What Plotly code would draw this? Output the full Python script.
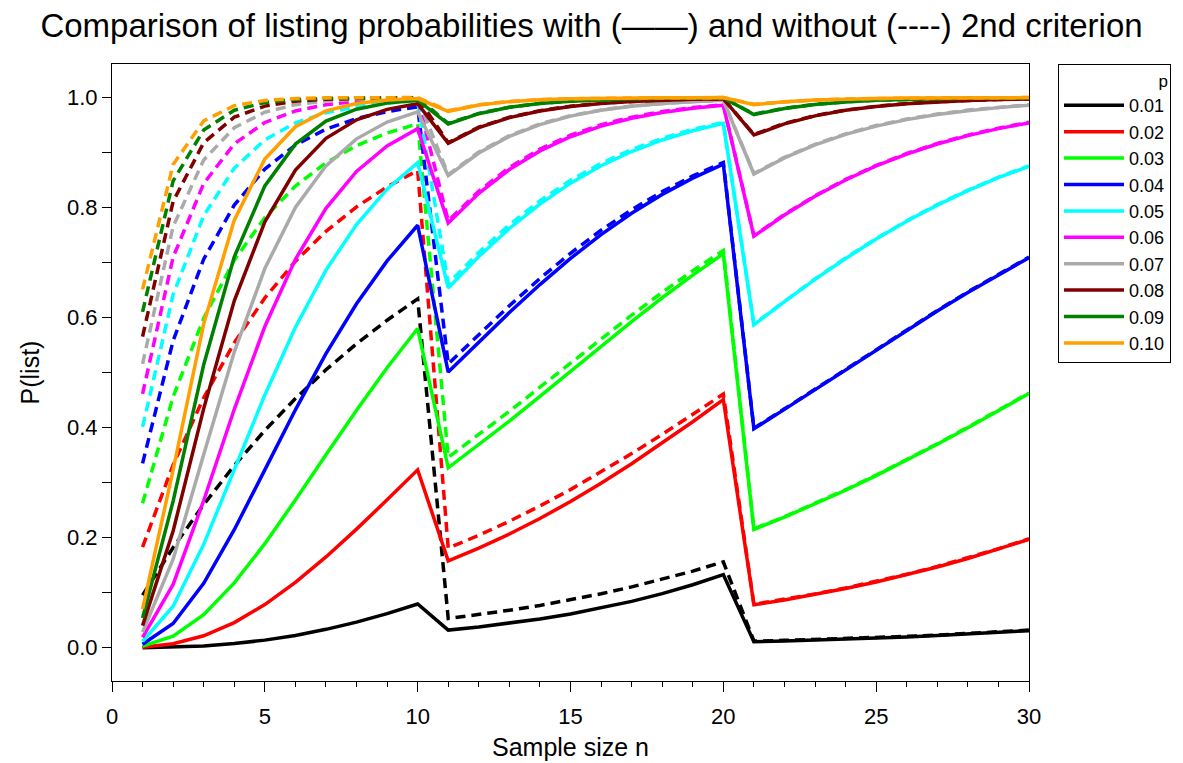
import plotly.graph_objects as go

# Sample sizes and exceedance probabilities
n = list(range(1, 31))
p_labels = ["0.01", "0.02", "0.03", "0.04", "0.05", "0.06", "0.07", "0.08", "0.09", "0.10"]
colors = ["#000000", "#FF0000", "#00FF00", "#0000FF", "#00FFFF",
          "#FF00FF", "#AAAAAA", "#800000", "#008000", "#FF9F00"]

# Listing probability WITH the 2nd criterion (solid lines), n = 1..30
with_p01 = [0.0001, 0.0010, 0.0033, 0.0075, 0.0138, 0.0223, 0.0334, 0.0466, 0.0620, 0.0794,
            0.032, 0.0377, 0.0444, 0.0523, 0.0614, 0.0720, 0.0842, 0.0983, 0.1145, 0.133,
            0.011, 0.0124, 0.0139, 0.0156, 0.0175, 0.0196, 0.0220, 0.0247, 0.0277, 0.031]
with_p02 = [0.0009, 0.0071, 0.0217, 0.0457, 0.0784, 0.1188, 0.1650, 0.2156, 0.2688, 0.3233,
            0.158, 0.1811, 0.2067, 0.2349, 0.2656, 0.2988, 0.3343, 0.3717, 0.4107, 0.451,
            0.078, 0.0869, 0.0968, 0.1076, 0.1196, 0.1325, 0.1468, 0.1622, 0.1789, 0.197]
with_p03 = [0.0028, 0.0210, 0.0601, 0.1178, 0.1892, 0.2685, 0.3508, 0.4318, 0.5089, 0.5802,
            0.327, 0.3685, 0.4119, 0.4568, 0.5025, 0.5480, 0.5928, 0.6361, 0.6773, 0.716,
            0.215, 0.2372, 0.2610, 0.2862, 0.3128, 0.3407, 0.3698, 0.3999, 0.4307, 0.462]
with_p04 = [0.0062, 0.0439, 0.1169, 0.2145, 0.3233, 0.4324, 0.5344, 0.6252, 0.7031, 0.7679,
            0.501, 0.5557, 0.6092, 0.6601, 0.7076, 0.7509, 0.7898, 0.8240, 0.8536, 0.879,
            0.398, 0.4332, 0.4690, 0.5052, 0.5414, 0.5771, 0.6120, 0.6458, 0.6782, 0.709]
with_p05 = [0.0115, 0.0755, 0.1878, 0.3233, 0.4595, 0.5826, 0.6863, 0.7693, 0.8335, 0.8817,
            0.654, 0.7110, 0.7620, 0.8065, 0.8444, 0.8760, 0.9019, 0.9229, 0.9397, 0.953,
            0.587, 0.6292, 0.6695, 0.7074, 0.7427, 0.7751, 0.8044, 0.8308, 0.8543, 0.875]
with_p06 = [0.0188, 0.1150, 0.2676, 0.4334, 0.5838, 0.7060, 0.7987, 0.8656, 0.9121, 0.9435,
            0.772, 0.8259, 0.8692, 0.9030, 0.9288, 0.9481, 0.9624, 0.9729, 0.9805, 0.986,
            0.748, 0.7865, 0.8205, 0.8502, 0.8757, 0.8973, 0.9156, 0.9308, 0.9435, 0.954]
with_p07 = [0.0283, 0.1610, 0.3512, 0.5375, 0.6892, 0.8003, 0.8759, 0.9250, 0.9555, 0.9740,
            0.858, 0.8991, 0.9293, 0.9509, 0.9662, 0.9768, 0.9842, 0.9892, 0.9926, 0.995,
            0.861, 0.8903, 0.9140, 0.9330, 0.9481, 0.9599, 0.9691, 0.9762, 0.9817, 0.986]
with_p08 = [0.0401, 0.2121, 0.4346, 0.6305, 0.7740, 0.8683, 0.9260, 0.9596, 0.9785, 0.9887,
            0.917, 0.9454, 0.9635, 0.9757, 0.9839, 0.9894, 0.9930, 0.9954, 0.9970, 0.998,
            0.932, 0.9522, 0.9667, 0.9768, 0.9839, 0.9889, 0.9923, 0.9947, 0.9964, 0.9975]
with_p09 = [0.0540, 0.2665, 0.5145, 0.7105, 0.8394, 0.9154, 0.9572, 0.9789, 0.9899, 0.9952,
            0.952, 0.9707, 0.9822, 0.9893, 0.9935, 0.9961, 0.9977, 0.9986, 0.9992, 0.9995,
            0.969, 0.9802, 0.9875, 0.9921, 0.9950, 0.9968, 0.9980, 0.9987, 0.9992, 0.9995]
with_p10 = [0.0702, 0.3231, 0.5887, 0.7772, 0.8883, 0.9470, 0.9758, 0.9893, 0.9954, 0.9981,
            0.975, 0.9863, 0.9926, 0.9960, 0.9978, 0.9988, 0.9994, 0.9997, 0.9998, 0.9999,
            0.987, 0.9924, 0.9956, 0.9974, 0.9985, 0.9991, 0.9995, 0.9997, 0.9998, 0.9999]

# Listing probability WITHOUT the 2nd criterion (dashed lines), n = 1..30
without_p01 = [0.0956, 0.1821, 0.2603, 0.3310, 0.3950, 0.4528, 0.5052, 0.5525, 0.5953, 0.6340,
               0.053, 0.0601, 0.0681, 0.0769, 0.0869, 0.0980, 0.1105, 0.1243, 0.1393, 0.156,
               0.012, 0.0134, 0.0149, 0.0166, 0.0185, 0.0206, 0.0230, 0.0257, 0.0287, 0.032]
without_p02 = [0.1829, 0.3324, 0.4545, 0.5543, 0.6358, 0.7024, 0.7569, 0.8014, 0.8377, 0.8674,
               0.181, 0.2044, 0.2299, 0.2577, 0.2874, 0.3193, 0.3528, 0.3877, 0.4241, 0.461,
               0.079, 0.0879, 0.0978, 0.1086, 0.1206, 0.1335, 0.1478, 0.1632, 0.1799, 0.198]
without_p03 = [0.2626, 0.4562, 0.5990, 0.7043, 0.7819, 0.8392, 0.8814, 0.9126, 0.9355, 0.9524,
               0.346, 0.3870, 0.4297, 0.4735, 0.5176, 0.5615, 0.6045, 0.6459, 0.6852, 0.722,
               0.216, 0.2382, 0.2620, 0.2872, 0.3138, 0.3417, 0.3708, 0.4009, 0.4317, 0.463]
without_p04 = [0.3352, 0.5580, 0.7062, 0.8046, 0.8701, 0.9137, 0.9426, 0.9618, 0.9746, 0.9831,
               0.516, 0.5697, 0.6217, 0.6711, 0.7170, 0.7588, 0.7962, 0.8290, 0.8576, 0.882,
               0.399, 0.4342, 0.4700, 0.5062, 0.5424, 0.5781, 0.6130, 0.6468, 0.6792, 0.710]
without_p05 = [0.4013, 0.6415, 0.7854, 0.8715, 0.9231, 0.9539, 0.9724, 0.9835, 0.9901, 0.9941,
               0.662, 0.7185, 0.7688, 0.8125, 0.8496, 0.8804, 0.9056, 0.9259, 0.9422, 0.955,
               0.588, 0.6302, 0.6705, 0.7084, 0.7437, 0.7761, 0.8054, 0.8318, 0.8553, 0.876]
without_p06 = [0.4614, 0.7099, 0.8437, 0.9158, 0.9547, 0.9756, 0.9869, 0.9929, 0.9962, 0.9979,
               0.776, 0.8300, 0.8731, 0.9065, 0.9318, 0.9506, 0.9645, 0.9745, 0.9818, 0.987,
               0.749, 0.7875, 0.8215, 0.8512, 0.8767, 0.8983, 0.9166, 0.9318, 0.9445, 0.955]
without_p07 = [0.5160, 0.7658, 0.8866, 0.9451, 0.9734, 0.9871, 0.9938, 0.9970, 0.9985, 0.9993,
               0.860, 0.9010, 0.9310, 0.9520, 0.9670, 0.9775, 0.9847, 0.9895, 0.9928, 0.9952,
               0.862, 0.8913, 0.9150, 0.9340, 0.9491, 0.9609, 0.9701, 0.9772, 0.9827, 0.987]
without_p08 = [0.5656, 0.8113, 0.9180, 0.9644, 0.9845, 0.9933, 0.9971, 0.9987, 0.9994, 0.9998,
               0.918, 0.9462, 0.9641, 0.9762, 0.9843, 0.9897, 0.9932, 0.9955, 0.9971, 0.998,
               0.933, 0.9530, 0.9673, 0.9773, 0.9843, 0.9892, 0.9925, 0.9949, 0.9965, 0.9976]
without_p09 = [0.6106, 0.8484, 0.9410, 0.9770, 0.9910, 0.9965, 0.9986, 0.9995, 0.9998, 0.9999,
               0.953, 0.9712, 0.9825, 0.9895, 0.9936, 0.9962, 0.9977, 0.9987, 0.9992, 0.9995,
               0.970, 0.9806, 0.9877, 0.9922, 0.9951, 0.9969, 0.9980, 0.9987, 0.9992, 0.9995]
without_p10 = [0.6513, 0.8784, 0.9576, 0.9852, 0.9948, 0.9982, 0.9994, 0.9998, 0.9999, 1.0000,
               0.976, 0.9868, 0.9929, 0.9962, 0.9979, 0.9988, 0.9994, 0.9997, 0.9998, 0.9999,
               0.988, 0.9926, 0.9957, 0.9975, 0.9985, 0.9991, 0.9995, 0.9997, 0.9998, 0.9999]

with_series = [with_p01, with_p02, with_p03, with_p04, with_p05,
               with_p06, with_p07, with_p08, with_p09, with_p10]
without_series = [without_p01, without_p02, without_p03, without_p04, without_p05,
                  without_p06, without_p07, without_p08, without_p09, without_p10]

FONT = "Liberation Sans, Arial, sans-serif"

fig = go.Figure()
for label, color, ys, yd in zip(p_labels, colors, with_series, without_series):
    fig.add_trace(go.Scatter(x=n, y=ys, mode="lines", name=label,
                             line=dict(color=color, width=3.5),
                             legendgroup=label))
    fig.add_trace(go.Scatter(x=n, y=yd, mode="lines", name=label,
                             line=dict(color=color, width=3.5, dash="10px,6px"),
                             legendgroup=label, showlegend=False))

fig.update_layout(
    width=1183, height=763,
    margin=dict(l=112, r=154, t=64, b=82),
    paper_bgcolor="white", plot_bgcolor="white",
    font=dict(family=FONT, color="black", size=22),
    title=dict(text="Comparison of listing probabilities with (\u2014\u2014) and without (----) 2nd criterion",
               x=0.5, xref="container", xanchor="center",
               y=1 - 25 / 763, yref="container", yanchor="middle",
               font=dict(family=FONT, size=33, color="black")),
    xaxis=dict(range=[0, 30], tick0=0, dtick=5, ticks="outside", ticklen=10,
               tickwidth=1, tickcolor="black",
               minor=dict(dtick=1, ticks="outside", ticklen=5, tickcolor="black"),
               showline=True, mirror=True, linecolor="black", linewidth=1,
               showgrid=False, zeroline=False, ticklabelstandoff=6, automargin=False,
               title=dict(text="Sample size n", font=dict(size=25), standoff=10),
               tickfont=dict(size=22)),
    yaxis=dict(range=[-0.0605, 1.061], tick0=0, dtick=0.2, tickformat=".1f",
               ticks="outside", ticklen=9, tickwidth=1, tickcolor="black",
               minor=dict(dtick=0.1, ticks="outside", ticklen=9, tickcolor="black"),
               showline=True, mirror=True, linecolor="black", linewidth=1,
               showgrid=False, zeroline=False, automargin=False,
               title=dict(text="P(list)", font=dict(size=25), standoff=20),
               tickfont=dict(size=22)),
    legend=dict(x=(1058 - 112) / 917, xanchor="left", y=1.0, yanchor="top",
                bordercolor="black", borderwidth=1, bgcolor="white",
                font=dict(family=FONT, size=18),
                title=dict(text="p", side="top right", font=dict(size=17)),
                itemwidth=60, entrywidth=60, entrywidthmode="pixels",
                tracegroupgap=0),
)

fig.write_html("out.html")
